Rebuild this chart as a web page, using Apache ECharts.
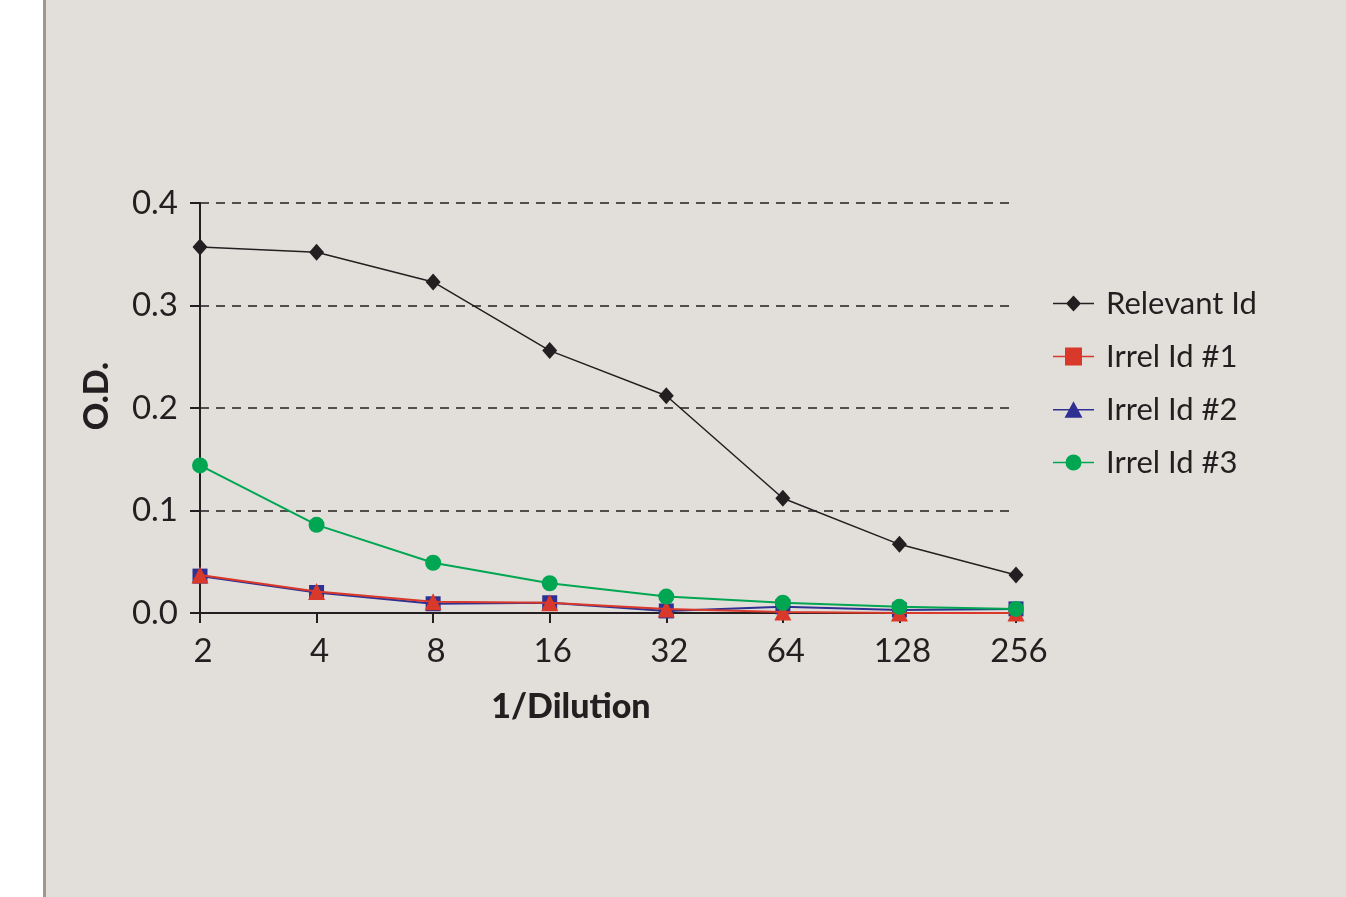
<!DOCTYPE html>
<html><head><meta charset="utf-8">
<script src="https://cdn.jsdelivr.net/npm/echarts@6/dist/echarts.min.js"></script>
<style>html,body{margin:0;padding:0;background:#fff}#c{width:1346px;height:897px}</style>
</head><body><div id="c"></div>
<script>
const categories = ['2','4','8','16','32','64','128','256'];
const relevantId = [0.357,0.352,0.323,0.256,0.212,0.112,0.067,0.037];
const irrel1 = [0.037,0.021,0.011,0.010,0.004,0.001,0.000,0.000];
const irrel2 = [0.036,0.020,0.009,0.010,0.002,0.006,0.003,0.004];
const irrel3 = [0.144,0.086,0.049,0.029,0.016,0.010,0.006,0.004];

const FONT = 'Lato';
const LINE = 'M0,8.2H41V9.8H0Z ';
const chart = echarts.init(document.getElementById('c'));
chart.setOption({
  backgroundColor:'#e2dfdb',
  animation:false,
  graphic:[
    {type:'rect',shape:{x:0,y:0,width:43,height:897},style:{fill:'#ffffff'},silent:true},
    {type:'rect',shape:{x:43,y:0,width:3,height:897},style:{fill:'#a0968c'},silent:true}
  ],
  grid:{left:200,right:330,top:203,bottom:284,containLabel:false},
  legend:{
    orient:'vertical', left:1048, top:283, itemGap:22, itemWidth:41, itemHeight:18,
    textStyle:{fontFamily:FONT,fontSize:31,color:'#231f20',padding:[0,0,0,7]},
    data:[
      {name:'Relevant Id',icon:'path://'+LINE+'M20.5,1L28,9L20.5,17L13,9Z',itemStyle:{color:'#231f20'}},
      {name:'Irrel Id #1',icon:'path://'+LINE+'M12,0H29V18H12Z',itemStyle:{color:'#d9392b'}},
      {name:'Irrel Id #2',icon:'path://'+LINE+'M20.5,0.5L29.5,17H11.5Z',itemStyle:{color:'#2e3192'}},
      {name:'Irrel Id #3',icon:'path://'+LINE+'M12.5,9A8,8 0 1 1 28.5,9A8,8 0 1 1 12.5,9Z',itemStyle:{color:'#00a651'}}
    ]
  },
  xAxis:{
    type:'category', data:categories, boundaryGap:false,
    name:'1/Dilution', nameLocation:'middle', nameGap:77,
    nameTextStyle:{fontFamily:FONT,fontSize:34,fontWeight:900,color:'#231f20',padding:[0,74,0,0]},
    axisLine:{lineStyle:{color:'#231f20',width:2}},
    axisTick:{show:true,alignWithLabel:true,length:10,lineStyle:{color:'#231f20',width:2}},
    axisLabel:{fontFamily:FONT,fontSize:33,color:'#231f20',margin:22,padding:[0,0,0,6]},
    splitLine:{show:false}
  },
  yAxis:{
    type:'value', min:0, max:0.4, interval:0.1,
    name:'O.D.', nameLocation:'middle', nameGap:86, nameRotate:90,
    nameTextStyle:{fontFamily:FONT,fontSize:34,fontWeight:900,color:'#231f20',padding:[0,0,0,24]},
    axisLine:{show:true,lineStyle:{color:'#231f20',width:2}},
    axisTick:{show:true,length:10,lineStyle:{color:'#231f20',width:2}},
    axisLabel:{fontFamily:FONT,fontSize:33,color:'#231f20',margin:22,formatter:v=>v.toFixed(1)},
    splitLine:{show:true,lineStyle:{color:'#231f20',width:1.5,type:[9,7]}}
  },
  series:[
    {name:'Relevant Id',type:'line',data:relevantId,symbol:'diamond',symbolSize:[15,17],
     itemStyle:{color:'#231f20'},lineStyle:{color:'#231f20',width:1.5},z:5},
    {name:'Irrel Id #1',type:'line',data:irrel1,symbol:'triangle',symbolSize:17,
     itemStyle:{color:'#d9392b'},lineStyle:{color:'#d9392b',width:2},z:3},
    {name:'Irrel Id #2',type:'line',data:irrel2,symbol:'rect',symbolSize:15,
     itemStyle:{color:'#2e3192'},lineStyle:{color:'#2e3192',width:2},z:2},
    {name:'Irrel Id #3',type:'line',data:irrel3,symbol:'circle',symbolSize:16,
     itemStyle:{color:'#00a651'},lineStyle:{color:'#00a651',width:2},z:4}
  ]
});
</script></body></html>
